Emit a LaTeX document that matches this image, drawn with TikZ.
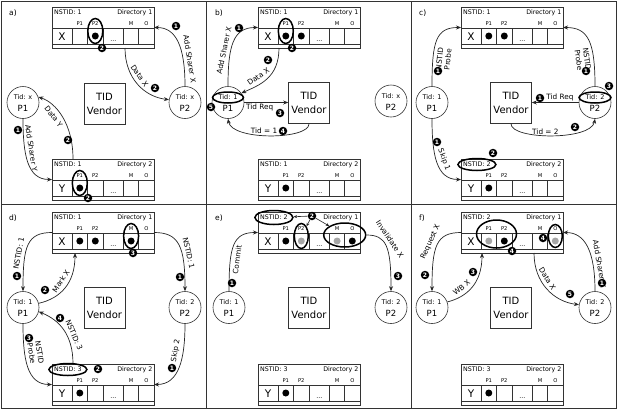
\documentclass[tikz,border=0pt]{standalone}
\usepackage{fontspec}
\setmainfont{DejaVu Sans}
\usetikzlibrary{arrows.meta,shapes.geometric}
\newcommand\myfs[1]{\fontsize{#1}{#1}\selectfont}
% directory box: name, x, y, nstid, dir number, line letter
\newcommand\dirbox[6]{%
  \node[dirframe] (#1) at (#2,#3) {};
  \begin{scope}[shift={(#2,#3)}]
    \draw[dirline] (0,21) -- (102,21) (0,37) -- (102,37)
      (20,21) -- (20,37) (35.6,21) -- (35.6,37) (51,21) -- (51,37)
      (71.6,21) -- (71.6,37) (86.6,21) -- (86.6,37);
    \node[hdr, anchor=west] (#1-ns) at (2,5.5) {NSTID: #4};
    \node[hdr, anchor=east] (#1-dn) at (100.5,5.5) {Directory #5};
    \node[sub] (#1-s1) at (27.8,16.5) {P1};
    \node[sub] (#1-s2) at (43.3,16.5) {P2};
    \node[sub] (#1-s3) at (79.1,16.5) {M};
    \node[sub] (#1-s4) at (94.3,16.5) {O};
    \node[cellt] (#1-v) at (10,29.5) {#6};
    \node[hdr, anchor=base] (#1-dots) at (61.3,34) {...};
    \coordinate (#1-P1) at (27.8,29);
    \coordinate (#1-P2) at (43.3,29);
    \coordinate (#1-M) at (79.1,29);
    \coordinate (#1-O) at (94.3,29);
    \coordinate (#1-PP) at (35.5,22);
    \coordinate (#1-MO) at (86.7,23);
  \end{scope}}
% processor: name, x, y, tid text, name text
\newcommand\procnode[5]{%
  \node[proc] (#1) at (#2,#3) {};
  \node[tidt] (#1-t) at ([yshift=5pt]#1.center) {#4};
  \node[pname] (#1-n) at ([yshift=-6pt]#1.center) {#5};}
\begin{document}
\begin{tikzpicture}[x=1pt,y=-1pt,
  panelframe/.style={draw=black!80, line width=0.8pt},
  dirframe/.style={draw=black!80, line width=0.6pt, minimum width=102pt, minimum height=41pt, anchor=north west, inner sep=0pt, outer sep=0pt},
  dirline/.style={draw=black!80, line width=0.5pt},
  hdr/.style={font=\myfs{6.3}, inner sep=0pt},
  sub/.style={font=\myfs{5.2}, inner sep=0pt},
  cellt/.style={font=\myfs{10.5}, inner sep=0pt},
  dotb/.style={circle, fill=black, minimum size=7pt, inner sep=0pt},
  dotg/.style={circle, fill=black!35, minimum size=7pt, inner sep=0pt},
  proc/.style={circle, draw=black!80, line width=0.6pt, minimum size=32pt, inner sep=0pt},
  tidt/.style={font=\myfs{6.5}, inner sep=0pt},
  pname/.style={font=\myfs{8.5}, inner sep=0pt},
  vendor/.style={draw=black!80, line width=0.6pt, minimum width=41pt, minimum height=41pt, inner sep=0pt, align=center, font=\fontsize{10}{14}\selectfont},
  badge/.style={circle, fill=black, text=white, font=\myfs{6}\bfseries, minimum size=8.5pt, inner sep=0pt},
  hl/.style={ellipse, draw=black, line width=1.5pt, inner sep=0pt},
  conn/.style={draw=black!85, line width=0.7pt, -{Stealth[length=5pt,width=4pt]}},
  sconn/.style={draw=black!85, line width=0.6pt, -{Stealth[length=3.5pt,width=3pt]}},
  lbl/.style={font=\myfs{7.3}, inner sep=1pt},
  lbltwo/.style={font=\fontsize{7.3}{8.3}\selectfont, inner sep=1pt, align=center},
  plab/.style={font=\myfs{7.5}, anchor=west, inner sep=0pt}
]
\useasboundingbox (0,0) rectangle (618,410);
\draw[panelframe] (1.5,1.5) rectangle (616,408);
\draw[panelframe] (206,1.5) -- (206,408) (411,1.5) -- (411,408) (1.5,204.5) -- (616,204.5);

% ---------------- panel a
\begin{scope}
\node[plab] (alab) at (9,13) {a)};
\dirbox{a1}{52}{7}{1}{1}{X}
\dirbox{a2}{52}{159}{1}{2}{Y}
\node[dotb] (a1d2) at (a1-P2) {};
\node[dotb] (a2d1) at (a2-P1) {};
\procnode{ap1}{23}{102.5}{Tid: x}{P1}
\procnode{ap2}{185}{102.5}{Tid: x}{P2}
\node[vendor] (atv) at (104.5,103.5) {TID\\Vendor};
\node[hl, minimum width=15pt, minimum height=25pt] (a1e) at ([yshift=5pt]a1-P2) {};
\node[hl, minimum width=15pt, minimum height=25pt] (a2e) at ([yshift=5pt]a2-P1) {};
\node[badge] (a1eb) at (102,48) {2};
\node[badge] (a2eb) at (88,198) {2};
\draw[conn] (ap2.north) .. controls +(0,-40) and +(22,0) .. (a1.east) node[lbl, pos=.25, sloped, above=2.5pt] (al1) {Add Sharer X};
\node[badge] (ab1) at (176,26) {1};
\draw[conn] ([xshift=73pt]a1.south west) .. controls +(0,30) and +(-25,-3) .. (ap2.170) node[lbl, pos=.42, sloped, above=2.5pt] (al2) {Data X};
\node[badge] (ab2) at (155,88) {2};
\draw[conn] ([xshift=21pt]a2.north west) .. controls +(0,-35) and +(18,6) .. (ap1.20) node[lbl, pos=.58, sloped, below=3pt] (al3) {Data Y};
\node[badge] (ab3) at (68,140) {2};
\draw[conn] (ap1.south) .. controls +(0,35) and +(-25,0) .. (a2.west) node[lbl, pos=.32, sloped, above=2.5pt] (al4) {Add Sharer Y};
\node[badge] (ab4) at (18,130) {1};
\end{scope}

% ---------------- panel b
\begin{scope}[shift={(206,0)}]
\node[plab] (blab) at (9,13) {b)};
\dirbox{b1}{52}{7}{1}{1}{X}
\dirbox{b2}{52}{159}{1}{2}{Y}
\node[dotb] (b1d1) at (b1-P1) {};
\node[dotb] (b1d2) at (b1-P2) {};
\node[dotb] (b2d1) at (b2-P1) {};
\procnode{bp1}{22}{102.5}{Tid: 1}{P1}
\procnode{bp2}{185}{101}{Tid: x}{P2}
\node[vendor] (btv) at (103,103) {TID\\Vendor};
\node[hl, minimum width=15pt, minimum height=25pt] (b1e) at ([yshift=5pt]b1-P1) {};
\node[badge] (b1eb) at (86,48) {2};
\node[hl, minimum width=31pt, minimum height=11pt] (bpe) at (bp1-t) {};
\node[badge] (bpeb) at (5,107) {5};
\draw[conn] (bp1.north) .. controls +(0,-40) and +(-25,0) .. (b1.west) node[lbl, pos=.35, sloped, above=2.5pt] (bl1) {Add Sharer X};
\node[badge] (bb1) at (33,28) {1};
\draw[conn] ([xshift=21pt]b1.south west) .. controls +(0,30) and +(18,-8) .. (bp1.35) node[lbl, pos=.6, sloped, above=3pt] (bl2) {Data X};
\node[badge] (bb2) at (62,60) {2};
\draw[conn] (bp1.east) -- (bp1.east -| btv.west) node[lbl, pos=.35, below] (bl3) {Tid Req};
\node[badge] (bb3) at (74,113) {3};
\draw[conn] (btv.south) .. controls +(0,16) and +(4,22) .. (bp1.south) node[lbl, pos=.55, above] (bl4) {Tid = 1};
\node[badge] (bb4) at (77,131) {4};
\end{scope}

% ---------------- panel c
\begin{scope}[shift={(409,0)}]
\node[plab] (clab) at (10,13) {c)};
\dirbox{c1}{52}{7}{1}{1}{X}
\dirbox{c2}{52}{159}{2}{2}{Y}
\node[dotb] (c1d1) at (c1-P1) {};
\node[dotb] (c1d2) at (c1-P2) {};
\node[dotb] (c2d1) at (c2-P1) {};
\procnode{cp1}{23}{102.5}{Tid: 1}{P1}
\procnode{cp2}{186}{102.5}{Tid: 2}{P2}
\node[vendor] (ctv) at (102,103) {TID\\Vendor};
\node[hl, minimum width=32pt, minimum height=11pt] (cpe) at (cp2-t) {};
\node[badge] (cpeb) at (200,86) {3};
\draw[conn] (cp1.north) .. controls +(0,-45) and +(-25,0) .. (c1.west) node[lbltwo, pos=.25, sloped, below=2.5pt] (cl1) {NSTID\\Probe};
\node[badge] (cb1) at (29,71) {1};
\draw[conn] (cp2.north) .. controls +(0,-45) and +(25,0) .. (c1.east) node[lbltwo, pos=.25, sloped, below=2.5pt] (cl2) {NSTID\\Probe};
\node[badge] (cb2) at (177,71) {1};
\draw[conn] (cp2.west) -- (cp2.west -| ctv.east) node[lbl, pos=.4, above] (cl3) {Tid Req};
\node[badge] (cb3) at (131,98) {1};
\draw[conn] (ctv.south) .. controls +(0,16) and +(-4,22) .. (cp2.south) node[lbl, pos=.45, above] (cl4) {Tid = 2};
\node[badge] (cb4) at (166,127) {2};
\draw[conn] (cp1.south) .. controls +(0,35) and +(-25,0) .. (c2.west) node[lbl, pos=.5, sloped, above=2.5pt] (cl5) {Skip 1};
\node[badge] (cb5) at (28,142) {1};
\node[hl, minimum width=38pt, minimum height=12pt] (c2e) at (c2-ns) {};
\node[badge] (c2eb) at (84,153) {2};
\end{scope}

% ---------------- panel d
\begin{scope}[shift={(0,205)}]
\node[plab] (dlab) at (9,13) {d)};
\dirbox{d1}{52}{7}{1}{1}{X}
\dirbox{d2}{52}{159}{3}{2}{Y}
\node[dotb] (d1d1) at (d1-P1) {};
\node[dotb] (d1d2) at (d1-P2) {};
\node[dotb] (d1d3) at (d1-M) {};
\node[dotb] (d2d1) at (d2-P1) {};
\procnode{dp1}{23}{102.5}{Tid: 1}{P1}
\procnode{dp2}{185}{102.5}{Tid: 2}{P2}
\node[vendor] (dtv) at (104.5,103) {TID\\Vendor};
\node[hl, minimum width=15pt, minimum height=25pt] (d1e) at ([yshift=5pt]d1-M) {};
\node[badge] (d1eb) at (133,48) {3};
\draw[conn] (d1.west) .. controls +(-25,0) and +(0,-45) .. (dp1.north) node[lbl, pos=.65, sloped, above=2.5pt] (dl1) {NSTID: 1};
\node[badge] (db1) at (17,71) {1};
\draw[conn] (d1.east) .. controls +(25,0) and +(0,-45) .. (dp2.north) node[lbl, pos=.65, sloped, above=2.5pt] (dl2) {NSTID: 1};
\node[badge] (db2) at (180,72) {1};
\draw[conn] (dp1.15) .. controls +(22,-5) and +(0,30) .. ([xshift=23pt]d1.south west) node[lbl, pos=.55, sloped, above=3pt] (dl3) {Mark X};
\node[badge] (db3) at (45,85) {2};
\draw[conn] ([xshift=21pt]d2.north west) .. controls +(0,-30) and +(20,8) .. (dp1.-15) node[lbl, pos=.35, sloped, above=2.5pt] (dl4) {NSTID: 3};
\node[badge] (db4) at (60,113) {4};
\draw[conn] (dp1.south) .. controls +(0,35) and +(-25,0) .. (d2.west) node[lbltwo, pos=.33, sloped, above=2.5pt] (dl5) {NSTID\\Probe};
\node[badge] (db5) at (29,133) {3};
\draw[conn] (dp2.south) .. controls +(0,35) and +(25,0) .. (d2.east) node[lbl, pos=.3, sloped, above=2.5pt] (dl6) {Skip 2};
\node[badge] (db6) at (172,163) {1};
\node[hl, minimum width=38pt, minimum height=12pt] (d2e) at (d2-ns) {};
\node[badge] (d2eb) at (98,164) {2};
\end{scope}

% ---------------- panel e
\begin{scope}[shift={(206,205)}]
\node[plab] (elab) at (9,13) {e)};
\dirbox{e1}{52}{7}{2}{1}{X}
\dirbox{e2}{52}{159}{3}{2}{Y}
\node[dotb] (e1d1) at (e1-P1) {};
\node[dotg] (e1d2) at (e1-P2) {};
\node[dotg] (e1d3) at (e1-M) {};
\node[dotb] (e1d4) at (e1-O) {};
\node[dotb] (e2d1) at (e2-P1) {};
\procnode{ep1}{23}{102.5}{Tid: 1}{P1}
\procnode{ep2}{185}{102.5}{Tid: 2}{P2}
\node[vendor] (etv) at (103,103) {TID\\Vendor};
\node[hl, minimum width=38pt, minimum height=14pt] (e1ea) at (e1-ns) {};
\node[hl, minimum width=14pt, minimum height=25pt] (e1eb) at ([yshift=5pt]e1-P2) {};
\node[hl, minimum width=42pt, minimum height=24pt] (e1ec) at (e1-MO) {};
\node[badge] (e1bd) at (106,11) {2};
\draw[sconn] (e1bd) -- (e1ea);
\draw[sconn] (e1bd) -- (e1eb);
\draw[sconn] (e1bd) -- (e1ec);
\draw[conn] (ep1.north) .. controls +(0,-45) and +(-25,0) .. (e1.west) node[lbl, pos=.3, sloped, below=2.5pt] (el1) {Commit};
\node[badge] (eb1) at (26,78) {1};
\draw[conn] (e1ec.east) .. controls +(20,0) and +(0,-45) .. (ep2.north) node[lbl, pos=.42, sloped, above=2.5pt] (el2) {Invalidate X};
\node[badge] (eb2) at (192,71) {3};
\end{scope}

% ---------------- panel f
\begin{scope}[shift={(409,205)}]
\node[plab] (flab) at (10,13) {f)};
\dirbox{f1}{52}{7}{2}{1}{X}
\dirbox{f2}{52}{159}{3}{2}{Y}
\node[dotg] (f1d1) at (f1-P1) {};
\node[dotb] (f1d2) at (f1-P2) {};
\node[dotg] (f1d4) at (f1-O) {};
\node[dotb] (f2d1) at (f2-P1) {};
\procnode{fp1}{23}{102.5}{Tid: 1}{P1}
\procnode{fp2}{186}{102.5}{Tid: 2}{P2}
\node[vendor] (ftv) at (102,103) {TID\\Vendor};
\node[hl, minimum width=40pt, minimum height=28pt] (f1ea) at (f1-PP) {};
\node[badge] (f1eab) at (103,46) {4};
\node[hl, minimum width=14pt, minimum height=23pt] (f1eb) at ([yshift=5pt]f1-O) {};
\node[badge] (f1ebb) at (134,33) {4};
\draw[conn] (f1.west) .. controls +(-25,0) and +(0,-45) .. (fp1.north) node[lbl, pos=.5, sloped, above=2.5pt] (fl1) {Request X};
\node[badge] (fb1) at (16,70) {2};
\draw[conn] (fp1.20) .. controls +(20,-5) and +(0,30) .. ([xshift=21pt]f1.south west) node[lbl, pos=.35, sloped, above=3pt] (fl2) {WB X};
\node[badge] (fb2) at (64,67) {3};
\draw[conn] ([xshift=73pt]f1.south west) .. controls +(0,30) and +(-25,-3) .. (fp2.170) node[lbl, pos=.38, sloped, above=2.5pt] (fl3) {Data X};
\node[badge] (fb3) at (161,89) {5};
\draw[conn] (fp2.north) .. controls +(0,-40) and +(22,0) .. (f1.east) node[lbl, pos=.25, sloped, above=2.5pt] (fl4) {Add Sharer X};
\node[badge] (fb4) at (193,78) {1};
\end{scope}
\end{tikzpicture}
\end{document}
